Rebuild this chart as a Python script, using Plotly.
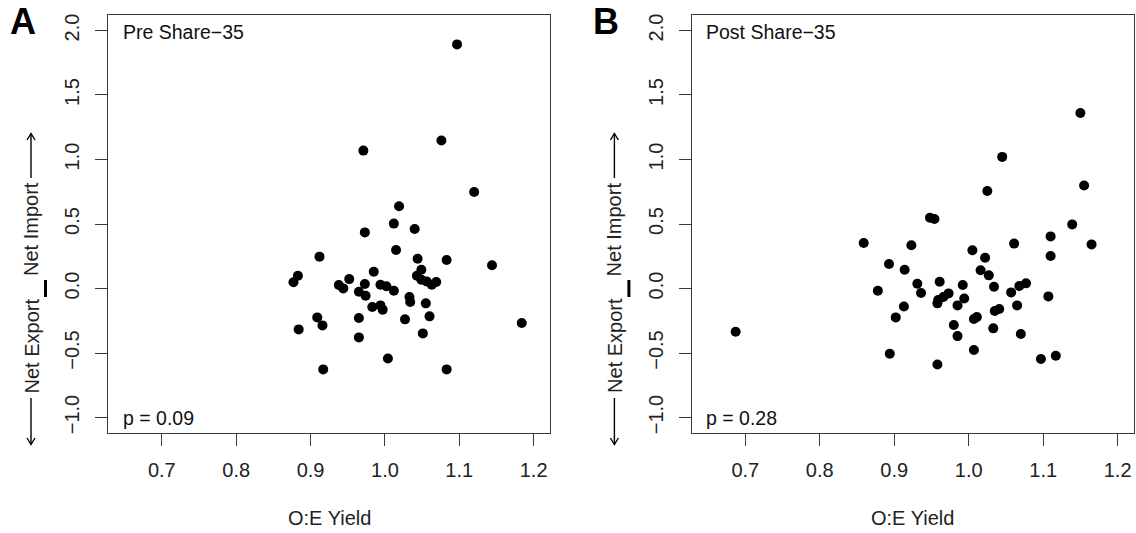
import plotly.graph_objects as go

# ---------------- data ----------------
pre_x = [1.097, 1.076, 0.971, 1.120, 1.019, 1.012, 0.973, 1.040, 1.015, 0.912,
         1.044, 1.083, 1.144, 0.883, 0.877, 0.985, 1.049, 1.043, 1.049, 1.056,
         1.063, 1.069, 0.952, 0.938, 0.944, 0.973, 0.965, 0.974, 0.994, 1.002,
         1.012, 1.033, 1.034, 1.055, 0.983, 0.994, 0.997, 1.027, 1.060, 0.909,
         0.916, 0.884, 0.965, 1.051, 0.965, 1.184, 1.004, 0.917, 1.083]
pre_y = [1.892, 1.147, 1.069, 0.748, 0.637, 0.503, 0.435, 0.461, 0.298, 0.247,
         0.231, 0.221, 0.180, 0.099, 0.048, 0.130, 0.146, 0.099, 0.068, 0.055,
         0.029, 0.050, 0.073, 0.027, 0.001, 0.035, -0.025, -0.056, 0.029, 0.017,
         -0.017, -0.066, -0.105, -0.115, -0.144, -0.131, -0.164, -0.239, -0.216, -0.224,
         -0.286, -0.317, -0.229, -0.348, -0.379, -0.268, -0.542, -0.627, -0.627]

post_x = [1.150, 1.045, 1.155, 1.025, 0.948, 0.954, 1.139, 1.110, 0.859, 0.923,
          1.061, 1.165, 1.005, 1.110, 1.022, 0.893, 0.914, 1.016, 1.027, 0.931,
          0.961, 0.992, 1.034, 1.068, 1.077, 0.878, 0.936, 0.973, 0.966, 0.959,
          0.958, 0.994, 1.057, 1.107, 0.913, 0.985, 1.065, 0.902, 1.035, 1.041,
          1.007, 1.011, 0.980, 1.033, 0.985, 1.070, 0.894, 1.007, 0.958, 1.097,
          1.117, 0.687]
post_y = [1.361, 1.020, 0.798, 0.756, 0.549, 0.539, 0.497, 0.404, 0.353, 0.335,
          0.348, 0.342, 0.296, 0.252, 0.239, 0.190, 0.146, 0.141, 0.102, 0.037,
          0.053, 0.027, 0.014, 0.019, 0.040, -0.017, -0.035, -0.038, -0.066, -0.089,
          -0.115, -0.077, -0.030, -0.061, -0.139, -0.131, -0.131, -0.224, -0.175, -0.159,
          -0.237, -0.221, -0.283, -0.309, -0.369, -0.353, -0.506, -0.477, -0.589, -0.547,
          -0.521, -0.335]

panel_letters = ["A", "B"]
panel_titles = ["Pre Share\u221235", "Post Share\u221235"]
p_labels = ["p = 0.09", "p = 0.28"]
x_ticks = [0.7, 0.8, 0.9, 1.0, 1.1, 1.2]
y_ticks = [-1.0, -0.5, 0.0, 0.5, 1.0, 1.5, 2.0]
x_title = "O:E Yield"
y_title_low = "Net Export"
y_title_high = "Net Import"

# ---------------- layout helpers ----------------
W, H = 1136, 533
MT, MB = 15, 100
FONT = "Liberation Sans, Arial, Helvetica, sans-serif"
INK = "#111111"
AXC = "#3a3a3a"


def px(x):
    return x / W


def py(y):
    return (H - MB - y) / (H - MT - MB)


boxes = [(108.3, 550.0), (691.7, 1134.0)]
xr = [0.628, 1.222]
yr = [-1.12, 2.12]

fig = go.Figure()
fig.add_trace(go.Scatter(x=pre_x, y=pre_y, mode="markers", xaxis="x", yaxis="y",
                         marker=dict(size=10, color="black"), showlegend=False))
fig.add_trace(go.Scatter(x=post_x, y=post_y, mode="markers", xaxis="x2", yaxis="y2",
                         marker=dict(size=10, color="black"), showlegend=False))

axis_common = dict(showgrid=False, zeroline=False, showline=True, mirror=True,
                   linecolor=AXC, linewidth=1.2, ticks="outside", ticklen=12,
                   tickwidth=1.2, tickcolor=AXC,
                   tickfont=dict(family=FONT, size=20, color="#222"))

layout = dict(width=W, height=H, margin=dict(l=0, r=0, t=MT, b=MB),
              plot_bgcolor="white", paper_bgcolor="white", showlegend=False)

for i, (l, r) in enumerate(boxes):
    sx = "" if i == 0 else str(i + 1)
    layout["xaxis" + sx] = dict(domain=[px(l), px(r)], range=xr, anchor="y" + sx,
                                tickvals=x_ticks, tickformat=".1f",
                                ticklabelstandoff=7, **axis_common)
    layout["yaxis" + sx] = dict(domain=[0, 1], range=yr, anchor="x" + sx,
                                tickvals=y_ticks, tickformat=".1f", tickangle=-90,
                                ticklabelstandoff=8, **axis_common)

fig.update_layout(**layout)

annotations = []
shapes = []
for i, (l, r) in enumerate(boxes):
    off = l - 108.3
    # panel letter
    annotations.append(dict(x=px(22.5 + off), y=py(21.7), xref="paper", yref="paper",
                            text="<b>%s</b>" % panel_letters[i], showarrow=False,
                            xanchor="center", yanchor="middle",
                            font=dict(family=FONT, size=36, color="black")))
    # corner texts
    annotations.append(dict(x=px(l + 12.5), y=py(31.7), xref="paper", yref="paper",
                            text=panel_titles[i], showarrow=False,
                            xanchor="left", yanchor="middle",
                            font=dict(family=FONT, size=19.5, color=INK)))
    annotations.append(dict(x=px(l + 12.5), y=py(418.3), xref="paper", yref="paper",
                            text=p_labels[i], showarrow=False,
                            xanchor="left", yanchor="middle",
                            font=dict(family=FONT, size=19.5, color=INK)))
    # x title
    annotations.append(dict(x=px((l + r) / 2), y=py(518), xref="paper", yref="paper",
                            text=x_title, showarrow=False,
                            xanchor="center", yanchor="middle",
                            font=dict(family=FONT, size=20, color="#222")))
    # y title parts (rotated)
    tx = 31.0 + off
    annotations.append(dict(x=px(tx), y=py(229), xref="paper", yref="paper",
                            text=y_title_high, showarrow=False, textangle=-90,
                            xanchor="center", yanchor="middle",
                            font=dict(family=FONT, size=20, color="#222")))
    annotations.append(dict(x=px(tx), y=py(345.5), xref="paper", yref="paper",
                            text=y_title_low, showarrow=False, textangle=-90,
                            xanchor="center", yanchor="middle",
                            font=dict(family=FONT, size=20, color="#222")))
    # central bar
    bx = 45.5 + off
    shapes.append(dict(type="line", xref="paper", yref="paper",
                       x0=px(bx), x1=px(bx), y0=py(280), y1=py(297),
                       line=dict(color="black", width=3)))
    # arrows: top (up) and bottom (down)
    shapes.append(dict(type="line", xref="paper", yref="paper",
                       x0=px(tx), x1=px(tx), y0=py(133.5), y1=py(178),
                       line=dict(color="black", width=1.4)))
    shapes.append(dict(type="path", xref="paper", yref="paper",
                       path="M %f,%f L %f,%f L %f,%f" % (px(tx - 4), py(140), px(tx), py(133.5),
                                                         px(tx + 4), py(140)),
                       line=dict(color="black", width=1.4)))
    shapes.append(dict(type="line", xref="paper", yref="paper",
                       x0=px(tx), x1=px(tx), y0=py(398), y1=py(444.5),
                       line=dict(color="black", width=1.4)))
    shapes.append(dict(type="path", xref="paper", yref="paper",
                       path="M %f,%f L %f,%f L %f,%f" % (px(tx - 4), py(438), px(tx), py(444.5),
                                                         px(tx + 4), py(438)),
                       line=dict(color="black", width=1.4)))

fig.update_layout(annotations=annotations, shapes=shapes)
fig.write_html("out.html", config={"displayModeBar": False},
               post_script="document.body.style.margin='0';document.body.style.padding='0';")
